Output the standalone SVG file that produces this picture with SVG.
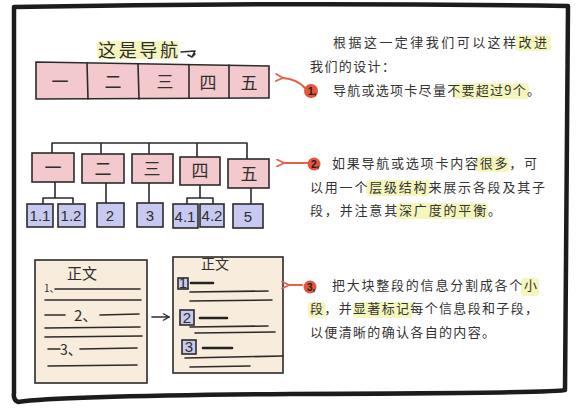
<svg xmlns="http://www.w3.org/2000/svg" width="576" height="409" viewBox="0 0 576 409">
<defs>
<style>
.ln{stroke:#2b2b2b;stroke-width:1.6;fill:none;stroke-linecap:round;stroke-linejoin:round}
.pk{fill:#f4c9cd;stroke:#2b2b2b;stroke-width:1.6}
.lv{fill:#c8c9f1;stroke:#2b2b2b;stroke-width:1.6}
.cr{fill:#f8ecdc;stroke:#2b2b2b;stroke-width:1.6}
.hl{fill:#f1f3a6;opacity:0.75}
.t{font-family:"Noto Sans CJK SC","Noto Sans",sans-serif;fill:#2e2e2e}
.lb{font-family:"Noto Sans CJK SC",sans-serif;fill:#2e2e2e;font-size:17px;text-anchor:middle}
.nm{font-family:"Liberation Sans","Noto Sans",sans-serif;fill:#2e2e2e;font-size:15px;text-anchor:middle}
.tx{font-family:"Noto Sans CJK SC",sans-serif;fill:#333;font-size:13px}
.red{stroke:#e6604a;stroke-width:2.2;fill:none;stroke-linecap:round}
.dot{fill:#e2553f}
.dl{font-family:"Liberation Sans",sans-serif;font-size:10px;font-weight:bold;fill:#2a1a10}
.thk{stroke:#222;stroke-width:2.6;stroke-linecap:round}
</style>
<marker id="ra" viewBox="0 0 10 10" refX="1" refY="5" markerWidth="4" markerHeight="4" orient="auto-start-reverse">
<path d="M9,1 L1,5 L9,9" fill="none" stroke="#e6604a" stroke-width="2" stroke-linecap="round"/>
</marker>
<marker id="ba" viewBox="0 0 10 10" refX="9" refY="5" markerWidth="5" markerHeight="5" orient="auto">
<path d="M2,1 L9,5 L2,9" fill="none" stroke="#2b2b2b" stroke-width="1.6" stroke-linecap="round"/>
</marker>
</defs>
<rect width="576" height="409" fill="#ffffff"/>
<!-- frame -->
<path d="M14,7 Q290,2 568,6 L565,390 Q560,393 290,394 Q60,396 18,402 Q13,400 14,393 Z" fill="none" stroke="#1c1c1c" stroke-width="4.5" stroke-linejoin="round"/>

<!-- Section 1: nav bar -->
<g id="nav-title">
<rect class="hl" x="97" y="41" width="82" height="18" rx="4"/>
<text class="t" x="98" y="57" font-size="18" textLength="80" lengthAdjust="spacing">这是导航</text>
<path class="ln" d="M181,52 L195,51 L192,57 M188,55 L192,57 L195,54"/>
</g>
<g id="nav">
<polygon class="pk" points="36,62 269,66 269,98 36,99"/>
<path class="ln" d="M87,63 L88,99 M138,64 L139,99 M189,65 L189,98 M229,65 L229,98"/>
<text class="lb" x="60" y="88">一</text>
<text class="lb" x="113" y="88">二</text>
<text class="lb" x="165" y="88">三</text>
<text class="lb" x="208" y="89">四</text>
<text class="lb" x="249" y="89">五</text>
</g>

<!-- Section 2: tree -->
<g id="connectors">
<path class="ln" d="M52,153 L52,143 L247,143 L247,159 M101,143 L101,153 M149,143 L149,153 M197,143 L197,158"/>
<path class="ln" d="M55,182 L55,198 M43,205 L43,198 L73,198 L73,203"/>
<path class="ln" d="M106,183 L106,203"/>
<path class="ln" d="M149,183 L149,203"/>
<path class="ln" d="M200,185 L200,198 M187,204 L187,198 L213,198 L213,204"/>
<path class="ln" d="M251,188 L251,204"/>
<path class="ln" d="M152,317 L169,317" marker-end="url(#ba)"/>
</g>
<g id="t1"><rect class="pk" x="32" y="153" width="42" height="29"/><text class="lb" x="53" y="174">一</text></g>
<g id="t2"><rect class="pk" x="82" y="154" width="42" height="29"/><text class="lb" x="103" y="175">二</text></g>
<g id="t3"><rect class="pk" x="132" y="154" width="41" height="29"/><text class="lb" x="152" y="175">三</text></g>
<g id="t4"><rect class="pk" x="180" y="157" width="40" height="28"/><text class="lb" x="200" y="177">四</text></g>
<g id="t5"><rect class="pk" x="228" y="159" width="41" height="29"/><text class="lb" x="249" y="180">五</text></g>
<g id="c11"><rect class="lv" x="27" y="204" width="26" height="23"/><text class="nm" x="40" y="221">1.1</text></g>
<g id="c12"><rect class="lv" x="58" y="204" width="27" height="23"/><text class="nm" x="71" y="221">1.2</text></g>
<g id="c2"><rect class="lv" x="97" y="203" width="27" height="24"/><text class="nm" x="110" y="221">2</text></g>
<g id="c3"><rect class="lv" x="137" y="203" width="26" height="24"/><text class="nm" x="150" y="221">3</text></g>
<g id="c41"><rect class="lv" x="173" y="204" width="25" height="24"/><text class="nm" x="185" y="222">4.1</text></g>
<g id="c42"><rect class="lv" x="200" y="204" width="24" height="23"/><text class="nm" x="212" y="221">4.2</text></g>
<g id="c5"><rect class="lv" x="233" y="204" width="30" height="24"/><text class="nm" x="248" y="222">5</text></g>

<!-- Section 3: documents -->
<g id="doc1">
<rect class="cr" x="35" y="260" width="112" height="123"/>
<text class="t" x="67" y="279" font-size="15">正文</text>
<text class="t" x="44" y="292" font-size="10">1、</text>
<path class="ln" d="M55,289 L140,289 M45,300 L141,300 M45,315 L65,315 M100,315 L139,314 M45,328 L140,327 M45,337 L142,336 M48,349 L60,349 M80,349 L137,348 M48,366 L137,365"/>
<text class="t" x="74" y="321" font-size="15">2、</text>
<text class="t" x="60" y="355" font-size="14">3、</text>
</g>
<g id="doc2">
<rect class="cr" x="173" y="257" width="110" height="116"/>
<text class="t" x="201" y="269" font-size="14">正文</text>
<rect class="lv" x="178" y="278" width="10" height="11"/>
<text class="nm" x="183" y="288" font-size="10">1</text>
<line class="thk" x1="191" y1="283" x2="213" y2="283"/>
<path class="ln" d="M190,292 L268,291 M190,301 L272,300"/>
<rect class="lv" x="180" y="310" width="14" height="15"/>
<text class="nm" x="187" y="323" font-size="14">2</text>
<line class="thk" x1="200" y1="318" x2="227" y2="318"/>
<path class="ln" d="M190,327 L268,326 M195,333 L275,332"/>
<rect class="lv" x="182" y="340" width="14" height="14"/>
<text class="nm" x="189" y="352" font-size="13">3</text>
<line class="thk" x1="203" y1="348" x2="232" y2="348"/>
<path class="ln" d="M185,358 L283,356 M190,367 L250,366"/>
</g>

<!-- Text block 1 -->
<g id="text1">
<rect class="hl" x="515" y="35" width="36" height="16" rx="4"/>
<rect class="hl" x="453" y="83" width="76" height="16" rx="4"/>
<text class="tx" x="333" y="47" textLength="214" lengthAdjust="spacing">根据这一定律我们可以这样改进</text>
<text class="tx" x="310" y="71" textLength="85" lengthAdjust="spacing">我们的设计：</text>
<text class="tx" x="333" y="95" textLength="207" lengthAdjust="spacing">导航或选项卡尽量不要超过9个。</text>
<path class="red" d="M305,88 Q297,79 283,78" marker-end="url(#ra)"/>
<circle class="dot" cx="311" cy="91" r="7"/>
<text class="dl" x="308" y="95">1,</text>
</g>

<!-- Text block 2 -->
<g id="text2">
<rect class="hl" x="476" y="156" width="33" height="16" rx="4"/>
<rect class="hl" x="366" y="180" width="64" height="16" rx="4"/>
<rect class="hl" x="396" y="203" width="92" height="16" rx="4"/>
<path class="red" d="M308,163 L284,163" marker-end="url(#ra)"/>
<circle class="dot" cx="314" cy="164" r="6.5"/>
<text class="dl" x="311" y="168">2,</text>
<text class="tx" x="332" y="168" textLength="205" lengthAdjust="spacing">如果导航或选项卡内容很多，可</text>
<text class="tx" x="310" y="192" textLength="235" lengthAdjust="spacing">以用一个层级结构来展示各段及其子</text>
<text class="tx" x="310" y="215" textLength="191" lengthAdjust="spacing">段，并注意其深广度的平衡。</text>
</g>

<!-- Text block 3 -->
<g id="text3">
<rect class="hl" x="521" y="278" width="18" height="18" rx="4"/>
<rect class="hl" x="308" y="302" width="18" height="16" rx="4"/>
<rect class="hl" x="353" y="302" width="60" height="16" rx="4"/>
<path class="red" d="M302,285 L289,285" marker-end="url(#ra)"/>
<circle class="dot" cx="310" cy="287" r="6.5"/>
<text class="dl" x="307" y="291">3,</text>
<text class="tx" x="332" y="290" textLength="205" lengthAdjust="spacing">把大块整段的信息分割成各个小</text>
<text class="tx" x="310" y="313" textLength="228" lengthAdjust="spacing">段，并显著标记每个信息段和子段，</text>
<text class="tx" x="310" y="337" textLength="185" lengthAdjust="spacing">以便清晰的确认各自的内容。</text>
</g>
</svg>
